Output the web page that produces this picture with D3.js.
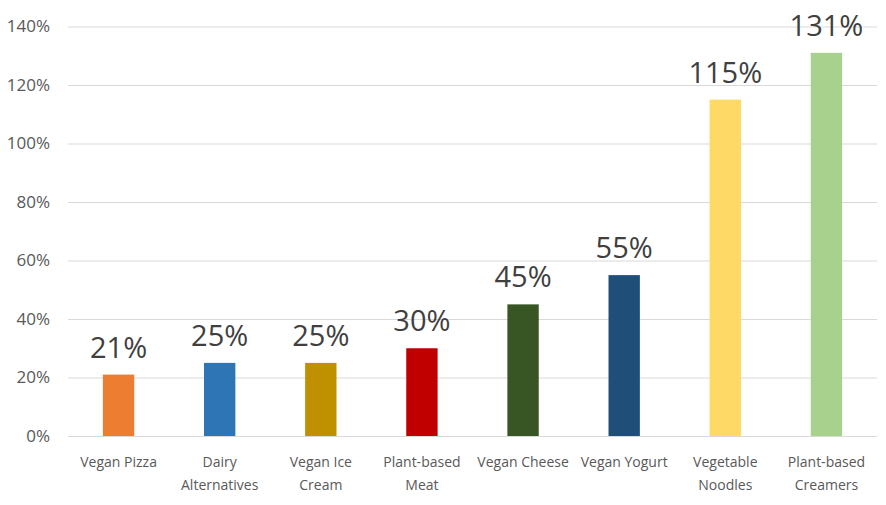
<!DOCTYPE html>
<html>
<head>
<meta charset="utf-8">
<script src="https://cdn.jsdelivr.net/npm/d3@7"></script>
<style>
  body { margin: 0; background: #fff; }
  svg text { font-family: "Open Sans", "Noto Sans", sans-serif; }
</style>
</head>
<body>
<div id="chart"></div>
<script>
// growth by product category
var categories = ["Vegan Pizza", "Dairy Alternatives", "Vegan Ice Cream", "Plant-based Meat",
                  "Vegan Cheese", "Vegan Yogurt", "Vegetable Noodles", "Plant-based Creamers"];
var labelLines = [["Vegan Pizza"], ["Dairy", "Alternatives"], ["Vegan Ice", "Cream"], ["Plant-based", "Meat"],
                  ["Vegan Cheese"], ["Vegan Yogurt"], ["Vegetable", "Noodles"], ["Plant-based", "Creamers"]];
var values = [21, 25, 25, 30, 45, 55, 115, 131];
var colors = ["#ED7D31", "#2E75B6", "#BF9000", "#C00000", "#375623", "#1F4E79", "#FFD966", "#A9D18E"];
var yTicks = [0, 20, 40, 60, 80, 100, 120, 140];

var width = 886, height = 505;
var margin = {top: 26.5, right: 9, bottom: 69, left: 68};

var svg = d3.select("#chart").append("svg")
  .attr("width", width)
  .attr("height", height);

var x = d3.scaleBand()
  .domain(categories)
  .range([margin.left, width - margin.right])
  .paddingInner(0.69)
  .paddingOuter(0.345);

var y = d3.scaleLinear()
  .domain([0, 140])
  .range([height - margin.bottom, margin.top]);

// gridlines + tick labels
var yAxis = d3.axisLeft(y)
  .tickValues(yTicks)
  .tickSize(-(width - margin.left - margin.right))
  .tickPadding(18)
  .tickFormat(d => d + "%");

var gy = svg.append("g")
  .attr("transform", `translate(${margin.left},0)`)
  .call(yAxis);
gy.select(".domain").remove();
gy.selectAll(".tick line").attr("stroke", "#d9d9d9").attr("stroke-width", 1);
gy.selectAll(".tick text")
  .attr("fill", "#595959")
  .style("font-size", "17px");

// bars
svg.selectAll("rect.bar")
  .data(values)
  .join("rect")
  .attr("class", "bar")
  .attr("x", (d, i) => x(categories[i]))
  .attr("width", x.bandwidth())
  .attr("y", d => y(d))
  .attr("height", d => y(0) - y(d))
  .attr("fill", (d, i) => colors[i]);

// value labels
svg.selectAll("text.val")
  .data(values)
  .join("text")
  .attr("class", "val")
  .attr("x", (d, i) => x(categories[i]) + x.bandwidth() / 2)
  .attr("y", d => y(d) - 17)
  .attr("text-anchor", "middle")
  .attr("fill", "#404040")
  .style("font-size", "29px")
  .text(d => d + "%");

// category labels
var cat = svg.selectAll("text.cat")
  .data(labelLines)
  .join("text")
  .attr("class", "cat")
  .attr("text-anchor", "middle")
  .attr("fill", "#595959")
  .style("font-size", "14px")
  .attr("transform", (d, i) => `translate(${x(categories[i]) + x.bandwidth() / 2},467)`);

cat.selectAll("tspan")
  .data(d => d)
  .join("tspan")
  .attr("x", 0)
  .attr("y", (d, i) => i * 23)
  .text(d => d);
</script>
</body>
</html>
